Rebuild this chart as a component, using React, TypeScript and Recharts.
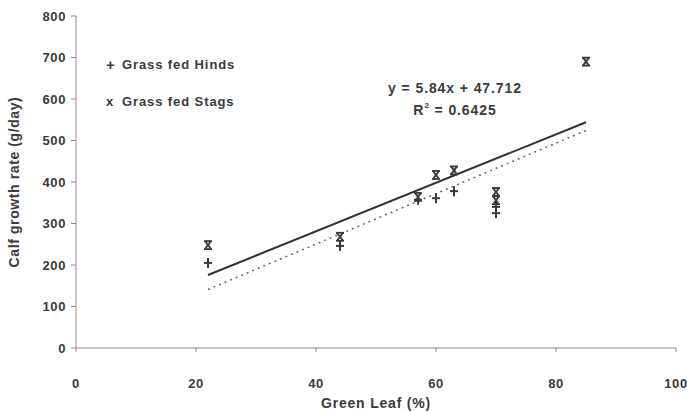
import {
  ScatterChart,
  Scatter,
  XAxis,
  YAxis,
} from "recharts";

const hindsX = [22, 44, 57, 60, 63, 70, 70];
const hindsY = [205, 246, 357, 361, 378, 340, 325];
const stagsX = [22, 44, 57, 60, 63, 70, 70, 85];
const stagsY = [248, 268, 364, 417, 428, 376, 356, 690];

// trendline end points
const allTrendX = [22, 85];
const allTrendY = [176, 544];
const hindsTrendX = [22, 85];
const hindsTrendY = [141, 524];

const xTicks = [0, 20, 40, 60, 80, 100];
const yTicks = [0, 100, 200, 300, 400, 500, 600, 700, 800];

const hinds = hindsX.map((x, i) => ({ x, y: hindsY[i] }));
const stags = stagsX.map((x, i) => ({ x, y: stagsY[i] }));
const allTrend = allTrendX.map((x, i) => ({ x, y: allTrendY[i] }));
const hindsTrend = hindsTrendX.map((x, i) => ({ x, y: hindsTrendY[i] }));

const font = "'Liberation Sans', Arial, sans-serif";
const ink = "#3a3a3a";

function PlusMark(props: any) {
  const { cx, cy } = props;
  return (
    <g stroke={ink} strokeWidth={2}>
      <line x1={cx - 4} y1={cy} x2={cx + 4} y2={cy} />
      <line x1={cx} y1={cy - 5} x2={cx} y2={cy + 5} />
    </g>
  );
}

function StagMark(props: any) {
  const { cx, cy } = props;
  return (
    <g stroke={ink} strokeWidth={1.8} fill="none">
      <line x1={cx - 4} y1={cy - 4} x2={cx + 4} y2={cy - 4} />
      <line x1={cx - 4} y1={cy + 4} x2={cx + 4} y2={cy + 4} />
      <line x1={cx - 3} y1={cy - 4} x2={cx + 3} y2={cy + 4} />
      <line x1={cx + 3} y1={cy - 4} x2={cx - 3} y2={cy + 4} />
    </g>
  );
}

const noShape = () => <g />;

const textStyle = {
  fontFamily: font,
  fontWeight: 700,
  fontSize: 14,
  letterSpacing: 0.9,
  color: ink,
} as const;

const tickStyle = {
  fill: ink,
  fontFamily: font,
  fontWeight: 700,
  fontSize: 13,
  style: { letterSpacing: 0.6 },
};

export default function App() {
  return (
    <div style={{ position: "absolute", left: 0, top: 0, width: 687, height: 412, background: "#fff" }}>
      <ScatterChart
        width={687}
        height={412}
        margin={{ top: 16, right: 11, left: 0, bottom: 0 }}
      >
        <XAxis
          type="number"
          dataKey="x"
          domain={[0, 100]}
          ticks={xTicks}
          height={64}
          stroke="#8a8a8a"
          tickSize={4}
          tickMargin={27}
          tick={tickStyle}
          label={{
            value: "Green Leaf (%)",
            position: "insideBottom",
            offset: 4,
            fill: ink,
            fontFamily: font,
            fontWeight: 700,
            fontSize: 14,
            style: { letterSpacing: 0.8 },
          }}
        />
        <YAxis
          type="number"
          dataKey="y"
          width={76}
          domain={[0, 800]}
          ticks={yTicks}
          stroke="#8a8a8a"
          tickSize={5}
          tickMargin={5}
          tick={tickStyle}
          label={{
            value: "Calf growth rate (g/day)",
            angle: -90,
            position: "insideLeft",
            offset: 14,
            fill: ink,
            fontFamily: font,
            fontWeight: 700,
            fontSize: 14,
            style: { textAnchor: "middle", letterSpacing: 0.6 },
          }}
        />
        <Scatter
          name="all trend"
          data={allTrend}
          line={{ stroke: "#333", strokeWidth: 2 }}
          shape={noShape}
          isAnimationActive={false}
        />
        <Scatter
          name="hinds trend"
          data={hindsTrend}
          line={{ stroke: "#666", strokeWidth: 1.5, strokeDasharray: "2 4" }}
          shape={noShape}
          isAnimationActive={false}
        />
        <Scatter
          name="Grass fed Hinds"
          data={hinds}
          shape={PlusMark}
          isAnimationActive={false}
        />
        <Scatter
          name="Grass fed Stags"
          data={stags}
          shape={StagMark}
          isAnimationActive={false}
        />
      </ScatterChart>
      <div style={{ ...textStyle, fontSize: 13, position: "absolute", left: 106, top: 55 }}>
        <div style={{ display: "flex", alignItems: "center", height: 18 }}>
          <span style={{ width: 16, fontSize: 15 }}>+</span>Grass fed Hinds
        </div>
        <div style={{ display: "flex", alignItems: "center", height: 18, marginTop: 19 }}>
          <span style={{ width: 16 }}>x</span>Grass fed Stags
        </div>
      </div>
      <div
        style={{
          ...textStyle,
          position: "absolute",
          left: 375,
          top: 77,
          width: 160,
          textAlign: "center",
          lineHeight: "22px",
        }}
      >
        <div>y = 5.84x + 47.712</div>
        <div>
          R<sup style={{ fontSize: 8, verticalAlign: "top", lineHeight: "14px" }}>2</sup> = 0.6425
        </div>
      </div>
    </div>
  );
}
